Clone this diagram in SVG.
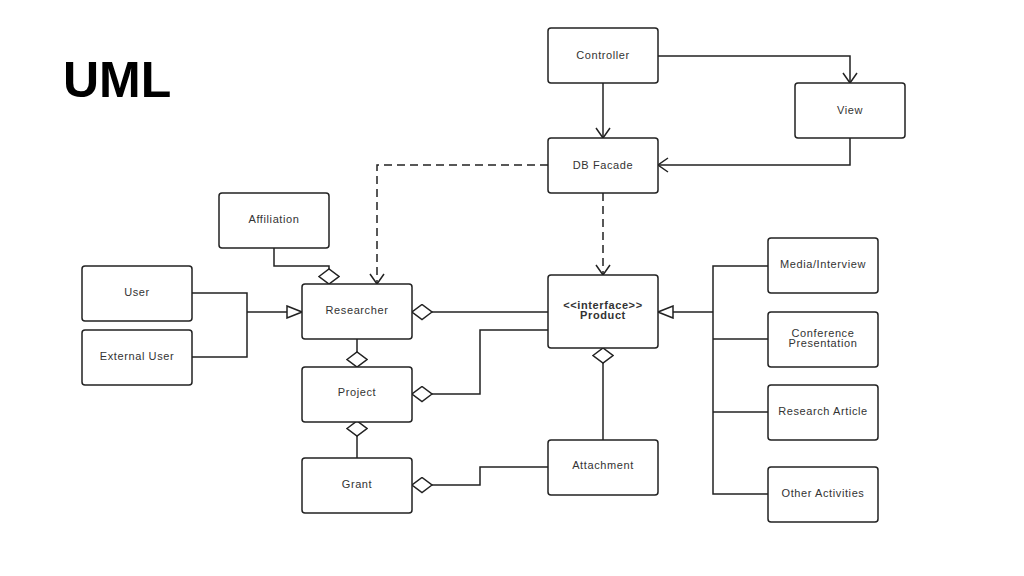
<svg xmlns="http://www.w3.org/2000/svg" width="1024" height="576" viewBox="0 0 1024 576">
<style>
.box{fill:#fff;stroke:#222;stroke-width:1.5}
.lbl{font-family:"Liberation Sans",Arial,sans-serif;font-size:11px;letter-spacing:0.6px;fill:#333;text-anchor:middle}
.b{font-weight:bold}
.ln{fill:none;stroke:#222;stroke-width:1.5}
.dash{stroke-dasharray:8 5}
.arr{marker-end:url(#open)}
.gen{marker-end:url(#tri)}
.agg{marker-end:url(#dia)}
.aggD{marker-end:url(#diaDown)}
.aggU{marker-end:url(#diaUp)}
</style>
<defs>
<marker id="open" markerUnits="userSpaceOnUse" viewBox="-1 -1 12 16" refX="10" refY="7" markerWidth="12" markerHeight="16" orient="auto">
<path d="M0,0 L10,7 L0,14" fill="none" stroke="#222" stroke-width="1.5"/>
</marker>
<marker id="tri" markerUnits="userSpaceOnUse" viewBox="-1 -1 17 14" refX="15" refY="6" markerWidth="17" markerHeight="14" orient="auto">
<path d="M0,0 L15,6 L0,12 Z" fill="#fff" stroke="#222" stroke-width="1.5"/>
</marker>
<marker id="dia" markerUnits="userSpaceOnUse" viewBox="-1 -1 22 17" refX="20" refY="7.5" markerWidth="22" markerHeight="17" orient="auto">
<path d="M0,7.5 L10,0 L20,7.5 L10,15 Z" fill="#fff" stroke="#222" stroke-width="1.5"/>
</marker>
<marker id="diaDown" markerUnits="userSpaceOnUse" viewBox="-1 -1 22 17" refX="10" refY="15" markerWidth="22" markerHeight="17" orient="0">
<path d="M0,7.5 L10,0 L20,7.5 L10,15 Z" fill="#fff" stroke="#222" stroke-width="1.5"/>
</marker>
<marker id="diaUp" markerUnits="userSpaceOnUse" viewBox="-1 -1 22 17" refX="10" refY="0" markerWidth="22" markerHeight="17" orient="0">
<path d="M0,7.5 L10,0 L20,7.5 L10,15 Z" fill="#fff" stroke="#222" stroke-width="1.5"/>
</marker>
</defs>
<rect width="1024" height="576" fill="#fff"/>
<text x="63" y="97" font-family="'Liberation Sans',Arial,sans-serif" font-size="50" font-weight="bold" fill="#000">UML</text>

<g id="connectors">
<polyline class="ln arr" points="658,56 850,56 850,83"/>
<polyline class="ln arr" points="603,83 603,138"/>
<polyline class="ln arr" points="850,138 850,165 658,165"/>
<polyline class="ln dash arr" points="548,165 377,165 377,284"/>
<polyline class="ln dash arr" points="603,193 603,275"/>
<polyline class="ln aggD" points="274,248 274,266 329,266 329,284"/>
<polyline class="ln" points="192,293 247,293 247,357 192,357"/>
<polyline class="ln gen" points="247,312 302,312"/>
<polyline class="ln agg" points="548,312 412,312"/>
<polyline class="ln agg" points="548,330 480,330 480,394 412,394"/>
<polyline class="ln aggD" points="357,339 357,367"/>
<polyline class="ln aggU" points="357,458 357,421"/>
<polyline class="ln agg" points="548,467 480,467 480,485 412,485"/>
<polyline class="ln aggU" points="603,440 603,348"/>
<polyline class="ln" points="768,266 713,266 713,494 768,494"/>
<polyline class="ln" points="713,339 768,339"/>
<polyline class="ln" points="713,412 768,412"/>
<polyline class="ln gen" points="713,312 658,312"/>
</g>

<g id="controller"><rect class="box" x="548" y="28" width="110" height="55" rx="3"/><text class="lbl" x="603" y="59">Controller</text></g>
<g id="view"><rect class="box" x="795" y="83" width="110" height="55" rx="3"/><text class="lbl" x="850" y="114">View</text></g>
<g id="dbfacade"><rect class="box" x="548" y="138" width="110" height="55" rx="3"/><text class="lbl" x="603" y="169">DB Facade</text></g>
<g id="affiliation"><rect class="box" x="219" y="193" width="110" height="55" rx="3"/><text class="lbl" x="274" y="223">Affiliation</text></g>
<g id="user"><rect class="box" x="82" y="266" width="110" height="55" rx="3"/><text class="lbl" x="137" y="296">User</text></g>
<g id="externaluser"><rect class="box" x="82" y="330" width="110" height="55" rx="3"/><text class="lbl" x="137" y="360">External User</text></g>
<g id="researcher"><rect class="box" x="302" y="284" width="110" height="55" rx="3"/><text class="lbl" x="357" y="314">Researcher</text></g>
<g id="project"><rect class="box" x="302" y="367" width="110" height="55" rx="3"/><text class="lbl" x="357" y="396">Project</text></g>
<g id="grant"><rect class="box" x="302" y="458" width="110" height="55" rx="3"/><text class="lbl" x="357" y="488">Grant</text></g>
<g id="product"><rect class="box" x="548" y="275" width="110" height="73" rx="3"/><text class="lbl b" x="603" y="309">&lt;&lt;interface&gt;&gt;</text><text class="lbl b" x="603" y="319">Product</text></g>
<g id="attachment"><rect class="box" x="548" y="440" width="110" height="55" rx="3"/><text class="lbl" x="603" y="469">Attachment</text></g>
<g id="media"><rect class="box" x="768" y="238" width="110" height="55" rx="3"/><text class="lbl" x="823" y="268">Media/Interview</text></g>
<g id="conference"><rect class="box" x="768" y="312" width="110" height="55" rx="3"/><text class="lbl" x="823" y="337">Conference</text><text class="lbl" x="823" y="347">Presentation</text></g>
<g id="article"><rect class="box" x="768" y="385" width="110" height="55" rx="3"/><text class="lbl" x="823" y="415">Research Article</text></g>
<g id="other"><rect class="box" x="768" y="467" width="110" height="55" rx="3"/><text class="lbl" x="823" y="497">Other Activities</text></g>
</svg>
